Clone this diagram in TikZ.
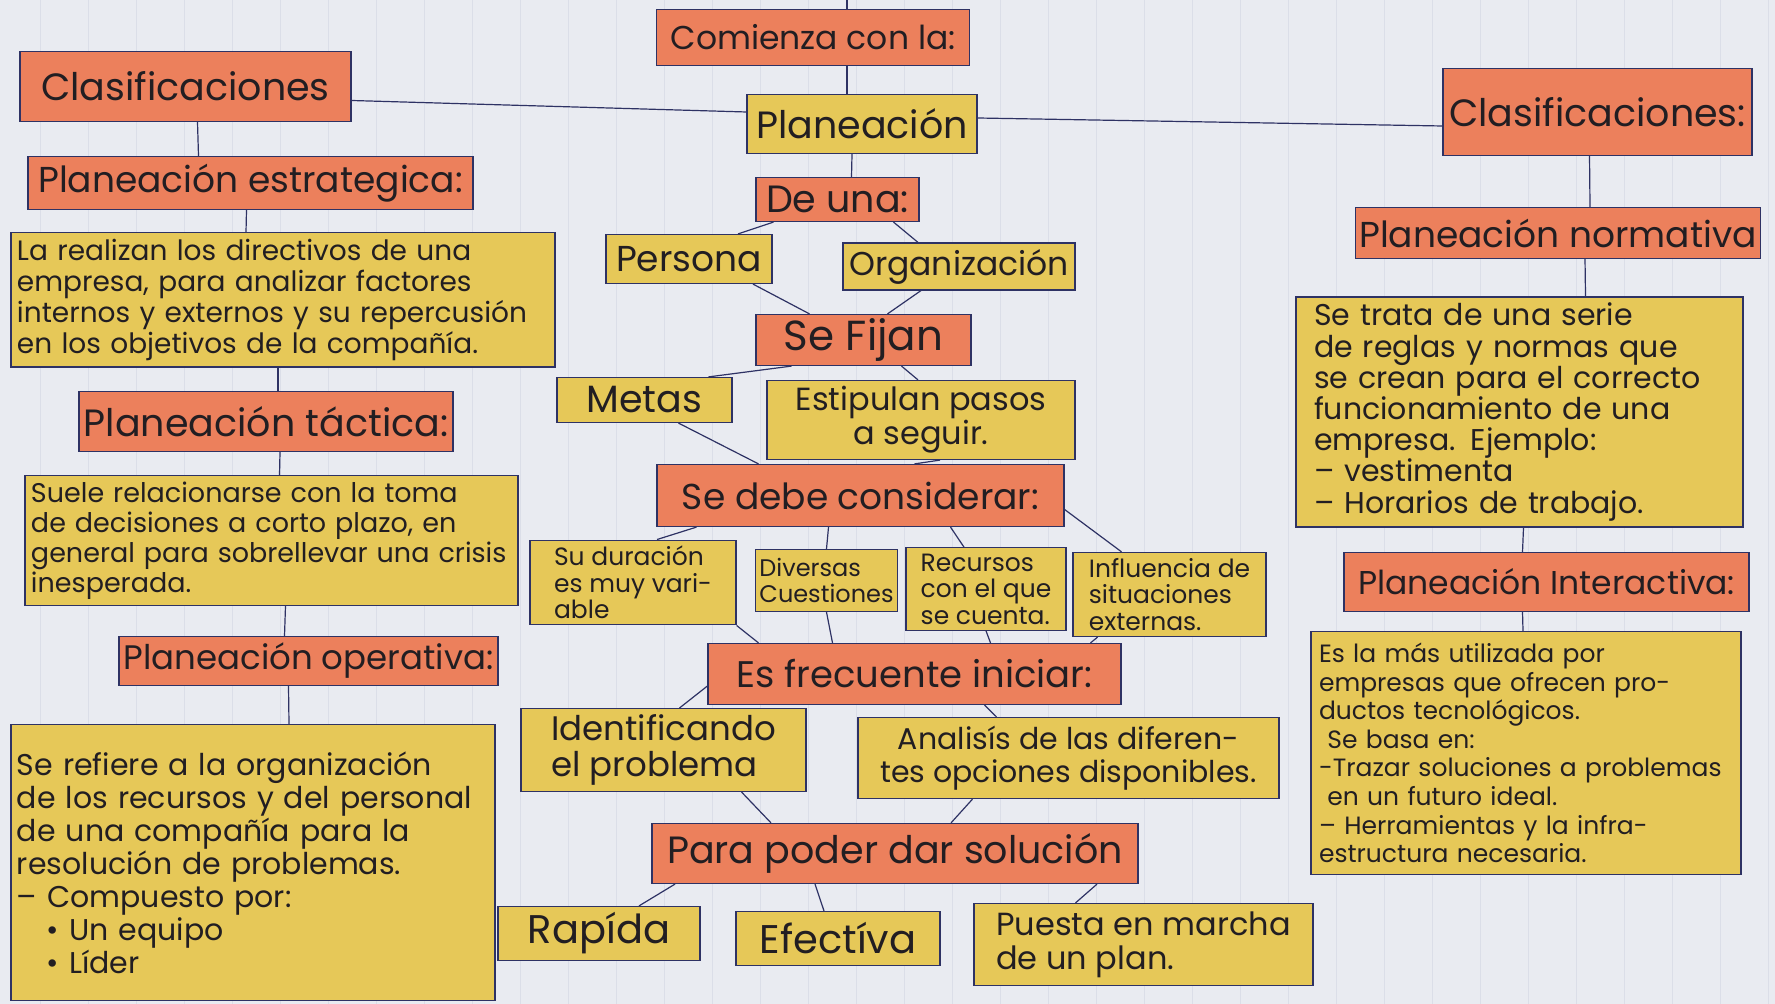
\documentclass[tikz,border=0pt]{standalone}
\usepackage{fontspec}
\setmainfont{Poppins}
\usepackage{xcolor}
\usepackage{tikz}

\definecolor{boxorange}{RGB}{236,128,92}
\definecolor{boxyellow}{RGB}{230,200,88}
\definecolor{penblue}{RGB}{46,50,100}
\definecolor{paper}{RGB}{233,235,241}
\definecolor{paperline}{RGB}{219,222,232}
\definecolor{ink}{RGB}{34,30,34}

\begin{document}
\begin{tikzpicture}[
        x=0.5pt, y=-0.5pt,
        hot/.style={rectangle, draw=penblue, fill=boxorange, line width=0.6pt, text=ink, inner sep=2pt, align=center},
        warm/.style={rectangle, draw=penblue, fill=boxyellow, line width=0.6pt, text=ink, inner sep=3pt, align=left},
        fs/.style 2 args={font=\fontsize{#1}{#2}\selectfont},
        dims/.style 2 args={minimum width=#1, minimum height=#2},
        link/.style={draw=penblue, line width=0.6pt}
    ]
        % Paper
        \fill[paper] (0,0) rectangle (1775,1003);
        \foreach \xl in {40,88,...,1775}
            \draw[paperline, line width=0.5pt] (\xl,0) -- (\xl,1003);
        \useasboundingbox (0,0) rectangle (1775,1003);

        % Top
        \node[hot, fs={16.5}{18}, dims={156.5pt}{28pt}] (start) at (813,37) {Comienza con la:};
        \node[warm, align=center, fs={19}{20}, dims={115pt}{29.5pt}] (plan) at (862,123.5) {Planeación};

        % Left column
        \node[hot, fs={19}{20}, dims={165.5pt}{35pt}] (clasL) at (185.5,86) {Clasificaciones};
        \node[hot, fs={18}{19}, dims={222.5pt}{26.5pt}] (estr) at (250.5,182.5) {Planeación estrategica:};
        \node[warm, fs={14}{15.6}, text width=266pt, minimum height=65.5pt] (realiz) at (283,299.5) {La realizan los directivos de una\\ empresa, para analizar factores\\ internos y externos y su repercusión\\ en los objetivos de la compañía.};
        \node[hot, fs={19}{20}, dims={187pt}{30pt}] (tact) at (266,421) {Planeación táctica:};
        \node[warm, fs={13.5}{15}, text width=240.5pt, minimum height=62pt] (suele) at (271.5,540) {Suele relacionarse con la toma\\ de decisiones a corto plazo, en\\ general para sobrellevar una crisis\\ inesperada.};
        \node[hot, fs={17}{18}, dims={189.5pt}{24.5pt}] (oper) at (308.5,660.5) {Planeación operativa:};
        \node[warm, fs={15}{16.5}, text width=236pt, minimum height=138pt] (refiere) at (253,862) {Se refiere a la organización\\ de los recursos y del personal\\ de una compañía para la\\ resolución de problemas.\\ -- Compuesto por:\\ \quad\textbullet\ Un equipo\\ \quad\textbullet\ Líder};

        % Right column
        \node[hot, fs={19}{20}, dims={154.5pt}{43.5pt}] (clasR) at (1597.5,111.5) {Clasificaciones:};
        \node[hot, fs={18}{19}, dims={202pt}{25.5pt}] (norm) at (1558,232.5) {Planeación normativa};
        \node[warm, fs={15}{15.6}, inner xsep=9pt, text width=205.5pt, minimum height=114.5pt] (trata) at (1519.5,411.5) {Se trata de una serie\\ de reglas y normas que\\ se crean para el correcto\\ funcionamiento de una\\ empresa. Ejemplo:\\ -- vestimenta\\ -- Horarios de trabajo.};
        \node[hot, fs={16.5}{18}, dims={202.5pt}{29.5pt}] (inter) at (1546.5,581.5) {Planeación Interactiva:};
        \node[warm, fs={12.5}{14.3}, inner xsep=4pt, text width=207pt, minimum height=121.5pt] (masut) at (1526,752.5) {Es la más utilizada por\\ empresas que ofrecen pro-\\ ductos tecnológicos.\\ \ Se basa en:\\ -Trazar soluciones a problemas\\ \ en un futuro ideal.\\ -- Herramientas y la infra-\\ estructura necesaria.};

        % Centre column
        \node[hot, fs={19}{20}, dims={81.5pt}{22pt}] (deuna) at (837.5,199) {De una:};
        \node[warm, align=center, fs={18}{19}, dims={83pt}{24.5pt}] (persona) at (689,258.5) {Persona};
        \node[warm, align=center, fs={16.5}{18}, dims={116pt}{23pt}] (org) at (959,266) {Organización};
        \node[hot, fs={21}{22}, dims={107.5pt}{25.5pt}] (fijan) at (863.5,339.5) {Se Fijan};
        \node[warm, align=center, fs={19}{20}, dims={87.5pt}{22.5pt}] (metas) at (644.5,399.5) {Metas};
        \node[warm, align=center, fs={16}{17}, dims={154pt}{38.5pt}] (pasos) at (921,419.5) {Estipulan pasos\\ a seguir.};
        \node[hot, fs={18}{19}, dims={203.5pt}{31pt}] (consid) at (860.5,495) {Se debe considerar:};
        \node[warm, fs={12.5}{13.2}, dims={103pt}{41pt}] (durac) at (633,582) {Su duración\\ es muy vari-\\ able};
        \node[warm, fs={12}{13}, dims={70.5pt}{31pt}, inner sep=2pt] (cuest) at (826.5,580) {Diversas\\ Cuestiones};
        \node[warm, fs={12.5}{13.2}, dims={80pt}{39.5pt}] (recur) at (986,588.5) {Recursos\\ con el que\\ se cuenta.};
        \node[warm, fs={12.5}{13.2}, dims={96.5pt}{42pt}] (influ) at (1169.5,594) {Influencia de\\ situaciones\\ externas.};
        \node[hot, fs={18.5}{20}, dims={206.5pt}{30.5pt}] (frec) at (914.5,673.5) {Es frecuente iniciar:};
        \node[warm, fs={17}{18}, dims={142.5pt}{39.5pt}] (ident) at (663.5,749.5) {Identificando\\ el problema};
        \node[warm, align=center, fs={15}{16.5}, dims={210.5pt}{40.5pt}] (anal) at (1068.5,757.5) {Analisís de las diferen-\\ tes opciones disponibles.};
        \node[hot, fs={19}{20}, dims={243pt}{30pt}] (sol) at (895,853) {Para poder dar solución};
        \node[warm, align=center, fs={20}{21}, dims={101pt}{27pt}] (rapida) at (599,933) {Rapída};
        \node[warm, align=center, fs={20}{21}, dims={102pt}{27pt}] (efect) at (838,938) {Efectíva};
        \node[warm, fs={16}{17}, dims={169.5pt}{41pt}] (puesta) at (1143.5,944) {Puesta en marcha\\ de un plan.};

        % Links - top
        \coordinate (edge) at (847,0);
        \draw[link] (edge) -- ([xshift=17pt]start.north);
        \draw[link] ([xshift=17pt]start.south) -- ([xshift=-7.5pt]plan.north);
        \draw[link] ([yshift=6pt]plan.west) -- ([yshift=-7pt]clasL.east);
        \draw[link] ([yshift=3pt]plan.east) -- ([yshift=-7pt]clasR.west);

        % Links - left column
        \draw[link] ([xshift=6pt]clasL.south) -- ([xshift=-26pt]estr.north);
        \draw[link] ([xshift=-2pt]estr.south) -- ([xshift=-18.5pt]realiz.north);
        \draw[link] ([xshift=-2.5pt]realiz.south) -- ([xshift=6pt]tact.north);
        \draw[link] ([xshift=7pt]tact.south) -- ([xshift=4pt]suele.north);
        \draw[link] ([xshift=7pt]suele.south) -- ([xshift=-12pt]oper.north);
        \draw[link] ([xshift=-10pt]oper.south) -- ([xshift=18pt]refiere.north);

        % Links - right column
        \draw[link] ([xshift=-4pt]clasR.south) -- ([xshift=16pt]norm.north);
        \draw[link] ([xshift=13.5pt]norm.south) -- ([xshift=33pt]trata.north);
        \draw[link] ([xshift=2pt]trata.south) -- ([xshift=-12pt]inter.north);
        \draw[link] ([xshift=-12pt]inter.south) -- ([xshift=-1.5pt]masut.north);

        % Links - centre column
        \draw[link] ([xshift=-5pt]plan.south) -- ([xshift=7pt]deuna.north);
        \draw[link] ([xshift=-32pt]deuna.south) -- ([xshift=24.5pt]persona.north);
        \draw[link] ([xshift=28pt]deuna.south) -- ([xshift=-20.5pt]org.north);
        \draw[link] ([xshift=32pt]persona.south) -- ([xshift=-27pt]fijan.north);
        \draw[link] ([xshift=-19pt]org.south) -- ([xshift=12pt]fijan.north);
        \draw[link] ([xshift=-36pt]fijan.south) -- ([xshift=32pt]metas.north);
        \draw[link] ([xshift=19pt]fijan.south) -- ([xshift=-1.5pt]pasos.north);
        \draw[link] ([xshift=17pt]metas.south) -- ([xshift=-51pt]consid.north);
        \draw[link] ([xshift=9.5pt]pasos.south) -- ([xshift=27pt]consid.north);
        \draw[link] ([xshift=-82pt]consid.south) -- ([xshift=12pt]durac.north);
        \draw[link] ([xshift=-16pt]consid.south) -- (cuest.north);
        \draw[link] ([xshift=45pt]consid.south) -- ([xshift=-11pt]recur.north);
        \draw[link] ([yshift=-7pt]consid.east) -- ([xshift=-24pt]influ.north);
        \draw[link] (durac.south east) -- ([xshift=-78pt]frec.north);
        \draw[link] (cuest.south) -- ([xshift=-41pt]frec.north);
        \draw[link] (recur.south) -- ([xshift=38pt]frec.north);
        \draw[link] ([xshift=-36pt]influ.south) -- ([xshift=88pt]frec.north);
        \draw[link] ([yshift=-6pt]frec.west) -- ([xshift=8pt]ident.north);
        \draw[link] ([xshift=35pt]frec.south) -- ([xshift=-36pt]anal.north);
        \draw[link] ([xshift=39pt]ident.south) -- ([xshift=-62pt]sol.north);
        \draw[link] ([xshift=-48pt]anal.south) -- ([xshift=28pt]sol.north);
        \draw[link] ([xshift=-110pt]sol.south) -- ([xshift=20pt]rapida.north);
        \draw[link] ([xshift=-40pt]sol.south) -- ([xshift=-7pt]efect.north);
        \draw[link] ([xshift=101pt]sol.south) -- ([xshift=-34pt]puesta.north);
    \end{tikzpicture}
\end{document}
